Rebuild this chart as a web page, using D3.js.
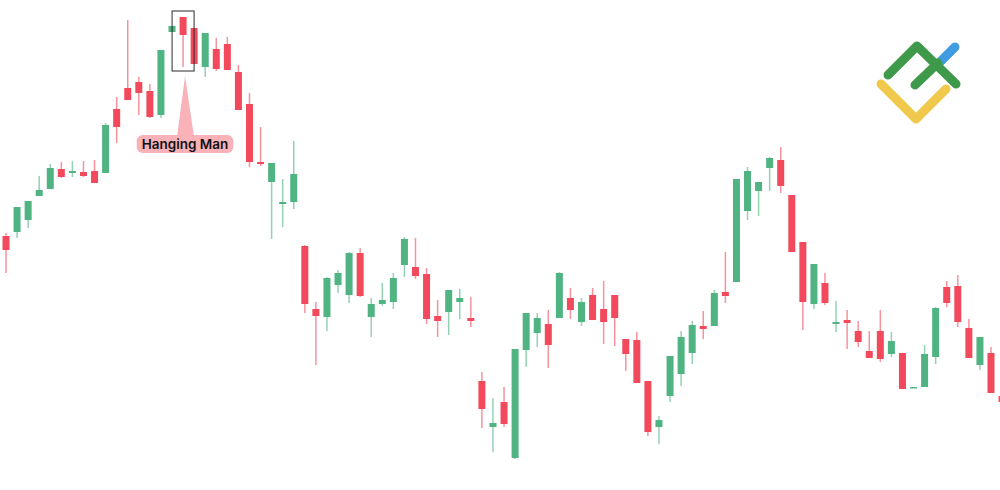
<!DOCTYPE html>
<html>
<head>
<meta charset="utf-8">
<script src="https://cdn.jsdelivr.net/npm/d3@7"></script>
<style>
  html, body { margin: 0; padding: 0; background: #ffffff; }
  svg { display: block; }
</style>
</head>
<body>
<svg id="chart" width="1000" height="490"></svg>
<script>
// Candle data (price units)
const openValues  = [254,258,270,294,301,321,317,318,319,317,381,402,408,399,375,458,473,462,423,441,446,418,386,328,308,286,288,244,181,173,205,195,237,173,186,188,225,223,216,174,178,188,172,109,63,88,32,140,157,166,172,192,168,195,181,195,151,150,109,63,94,116,137,164,164,198,208,279,299,322,330,295,248,186,207,166,170,159,139,159,136,137,102,103,133,203,204,162,125,137,94];
const highValues  = [257,283,289,314,326,328,329,329,330,367,393,470,413,406,440,464,473,462,457,452,453,425,397,363,327,311,349,245,188,213,220,238,242,192,207,217,253,252,222,190,200,201,193,118,92,103,141,177,177,180,218,202,192,202,209,195,151,158,109,74,134,159,169,179,200,238,311,323,308,333,343,295,248,226,217,189,180,169,159,180,158,137,103,145,183,209,215,171,153,143,98];
const lowValues   = [217,252,262,294,301,312,313,313,307,317,347,390,375,372,372,458,423,426,413,419,420,380,323,324,251,263,281,177,125,159,197,187,193,153,184,181,213,211,166,153,155,171,163,62,38,63,31,123,143,122,172,171,164,170,146,144,119,107,54,46,88,104,126,151,164,187,208,270,274,299,297,238,160,181,185,158,141,143,132,128,133,101,102,103,126,183,163,132,120,97,86];
const closeValues = [240,283,289,300,322,313,319,314,307,365,363,390,397,373,440,464,455,426,457,421,420,380,328,326,327,288,316,186,174,212,217,237,194,186,190,212,251,214,171,169,200,192,169,81,67,66,141,177,172,145,217,180,188,170,168,172,136,107,58,70,134,153,165,161,197,194,311,319,308,332,304,238,188,226,187,168,167,148,132,131,149,101,103,136,182,187,168,132,153,97,88];
const patternIndex = 16;
const patternLabel = "Hanging Man";

const W = 1000, H = 490;
const svg = d3.select("#chart");

const x = d3.scaleLinear().domain([0, 89]).range([6, 991]);
const y = d3.scaleLinear().domain([0, 490]).range([490, 0]);

const GREEN = "#4fb382";
const RED = "#f24a5c";
const bodyW = 7;

const candles = openValues.map((o, i) => ({
  i, o, h: highValues[i], l: lowValues[i], c: closeValues[i]
}));

const g = svg.append("g");

// wicks
g.selectAll("line.wick").data(candles).join("line")
  .attr("class", "wick")
  .attr("x1", d => x(d.i)).attr("x2", d => x(d.i))
  .attr("y1", d => y(d.h)).attr("y2", d => y(d.l))
  .attr("stroke", d => d.c >= d.o ? GREEN : RED)
  .attr("stroke-opacity", 0.6)
  .attr("stroke-width", 1.5);

// bodies
g.selectAll("rect.body").data(candles).join("rect")
  .attr("class", "body")
  .attr("x", d => x(d.i) - bodyW / 2)
  .attr("width", bodyW)
  .attr("y", d => y(Math.max(d.o, d.c)))
  .attr("height", d => Math.max(1.5, Math.abs(y(d.o) - y(d.c))))
  .attr("fill", d => d.c >= d.o ? GREEN : RED);

// Pattern highlight box
const pc = candles[patternIndex];
const boxX0 = x(patternIndex) - 11, boxX1 = x(patternIndex) + 11;
const boxY0 = y(pc.h) - 6, boxY1 = y(pc.l) + 4;
svg.append("rect")
  .attr("x", boxX0).attr("y", boxY0)
  .attr("width", boxX1 - boxX0).attr("height", boxY1 - boxY0)
  .attr("fill", "none").attr("stroke", "#2b2b2b").attr("stroke-width", 1);

// Label with pointer
const labelCx = 185, labelY = 135, labelH = 18;
const PINK = "#f8b2b8";
svg.append("path")
  .attr("d", `M${x(patternIndex) + 2},${boxY1 + 5} L${labelCx - 8},${labelY + 2} L${labelCx + 9},${labelY + 2} Z`)
  .attr("fill", PINK);
const labelText = svg.append("text")
  .attr("x", labelCx).attr("y", labelY + 13.5)
  .attr("text-anchor", "middle")
  .attr("font-family", "Inter, 'Open Sans', sans-serif")
  .attr("font-weight", 600)
  .attr("font-size", 13.5)
  .attr("fill", "#111")
  .text(patternLabel);
const bb = labelText.node().getBBox();
svg.insert("rect", "text")
  .attr("x", bb.x - 5).attr("y", labelY)
  .attr("width", bb.width + 10).attr("height", labelH)
  .attr("rx", 6).attr("fill", PINK);

// Logo
const logo = svg.append("g")
  .attr("fill", "none").attr("stroke-linecap", "round").attr("stroke-linejoin", "round")
  .attr("stroke-width", 9);
logo.append("path").attr("d", "M881,84 L916,119 L946,89").attr("stroke", "#f0c94c");
logo.append("path").attr("d", "M940,62 L955,47").attr("stroke", "#3f9ce0");
logo.append("path").attr("d", "M888,75 L917,46 L956,84").attr("stroke", "#3e9a4a");
logo.append("path").attr("d", "M915,85 L938,63").attr("stroke", "#3e9a4a");
</script>
</body>
</html>
